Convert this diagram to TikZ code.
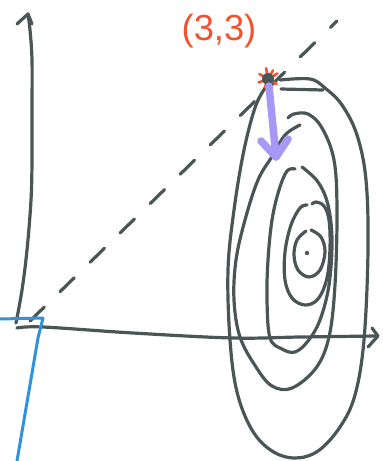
\documentclass[tikz,border=0pt]{standalone}
\usepackage{fontspec}
\newfontfamily\handfont{Liberation Sans}
\definecolor{ink}{RGB}{74,86,86}
\definecolor{hblue}{RGB}{48,146,222}
\definecolor{hred}{RGB}{240,84,46}
\definecolor{hpurple}{RGB}{168,152,246}
\begin{document}
\begin{tikzpicture}[x=1pt,y=-1pt,
  pen/.style={draw=ink,line width=3.2pt,line cap=round,line join=round},
  contour/.style={pen},
  dashline/.style={pen,dash pattern=on 20pt off 22pt},
  bluepen/.style={draw=hblue,line width=3pt,line cap=round,line join=round},
  gradarrow/.style={draw=hpurple,line width=7.5pt,line cap=round,line join=round},
  redmark/.style={draw=hred,line width=2.6pt,line cap=round}]
\useasboundingbox (0,0) rectangle (383,461);

% dashed line through origin and (3,3)
\coordinate (o) at (30,321);
\coordinate (dtop) at (337,21);
\draw[dashline] (o) -- (dtop);

% contours
\draw[contour] plot[smooth,tension=0.6] coordinates {(268,84) (256,105) (244,150) (234,210) (228,270) (230,340) (237,392) (252,430) (272,451) (295,458) (318,451) (340,427) (355,395) (364,340) (368,250) (366,180) (357,135) (342,105) (325,88) (310,79) (280,80)};
\coordinate (hs) at (281,89);
\coordinate (he) at (323,90);
\draw[pen] (hs) -- (he);
\draw[contour] plot[smooth,tension=0.6] coordinates {(300,125) (285,135) (273,155) (258,180) (245,220) (236,260) (234,300) (240,337) (256,367) (272,386) (292,388) (316,368) (329,337) (335,285) (337,210) (334,160) (322,128) (308,114) (294,114) (288,118)};
\draw[contour] plot[smooth,tension=0.6] coordinates {(295,169) (287,171) (279,190) (272,220) (268,260) (267,300) (270,338) (282,349) (295,352) (308,341) (320,320) (329,285) (332,240) (328,205) (318,182) (302,167)};
\draw[contour] plot[smooth,tension=0.6] coordinates {(307,205) (300,208) (291,225) (285,252) (285,280) (292,298) (305,305) (318,299) (327,278) (330,248) (329,220) (324,206) (316,202) (312,204)};
\draw[contour] plot[smooth,tension=0.6] coordinates {(306,231) (297,240) (294,255) (298,270) (309,277) (320,270) (325,252) (321,237) (311,230)};
\fill[ink] (307,253) circle (2.2pt);

% axes
\draw[pen] plot[smooth,tension=0.6] coordinates {(16,323) (22,290) (27,250) (31,200) (32,160) (32,110) (32,60) (30,30) (28,14)};
\coordinate (ytip) at (28,14);
\draw[pen] (17,24) -- (ytip) -- (32,24);
\draw[pen] plot[smooth,tension=0.6] coordinates {(17,328) (43,327) (133,333) (233,338) (300,337) (377,336)};
\coordinate (xtip) at (378,336);
\draw[pen] (372,328) -- (xtip) -- (368,347);

% blue line
\draw[bluepen] (0,319) -- (43,318) -- (38,338) -- (17,461);

% point (3,3)
\coordinate (p) at (268,79);
\foreach \a/\l in {100/11,150/10,200/10,250/9,30/11,330/10,60/10}
  \draw[redmark] (p) -- ++(\a:\l pt);
\fill[ink] (p) circle (6pt);

% gradient step arrow
\coordinate (gtip) at (276,157);
\draw[gradarrow] (269,86) -- (gtip);
\draw[gradarrow] (261,141) -- (gtip) -- (288,139);

% label
\node[text=hred,font=\handfont\fontsize{33}{33}\selectfont,xscale=1.1,yscale=1.1,inner sep=0] (lbl) at (219,31) {(3,3)};
\end{tikzpicture}
\end{document}
